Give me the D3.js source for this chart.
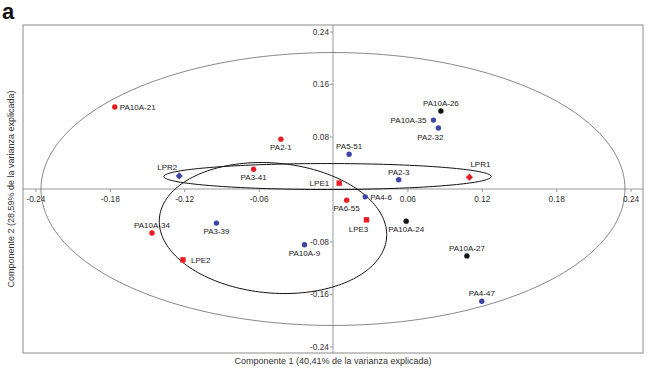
<!DOCTYPE html>
<html>
<head>
<meta charset="utf-8">
<script src="https://cdn.jsdelivr.net/npm/d3@7"></script>
<style>
  html, body { margin: 0; padding: 0; background: #fff; }
  svg { display: block; font-family: "Liberation Sans", Arial, sans-serif; }
</style>
</head>
<body>
<svg id="chart" width="650" height="376"></svg>
<script>
// ---- data ----
const names = ["PA10A-21","PA2-1","LPR2","PA3-41","LPE1","PA5-51","PA10A-26","PA10A-35","PA2-32","PA2-3","LPR1",
               "PA4-6","PA6-55","LPE3","PA10A-24","PA10A-27","PA4-47","PA10A-34","PA3-39","LPE2","PA10A-9"];
const pc1 = [-0.176,-0.042,-0.124,-0.064,0.005,0.013,0.087,0.081,0.085,0.053,0.110,
             0.026,0.011,0.027,0.059,0.108,0.120,-0.146,-0.094,-0.121,-0.023];
const pc2 = [0.125,0.076,0.020,0.030,0.009,0.053,0.119,0.105,0.093,0.014,0.018,
             -0.012,-0.017,-0.047,-0.049,-0.102,-0.171,-0.067,-0.052,-0.108,-0.085];
const group = ["red","red","blue","red","red","blue","black","blue","blue","blue","red",
               "blue","red","red","black","black","blue","red","blue","red","blue"];
const kind = ["isolate","isolate","LPR","isolate","LPE","isolate","isolate","isolate","isolate","isolate","LPR",
              "isolate","isolate","LPE","isolate","isolate","isolate","isolate","isolate","LPE","isolate"];
const labelPlace = ["r","b","tl","b","l","t","t","l","bl","t","tr",
                    "r","b","bl","b","t","t","t","b","r","b"];
const xTicks = [-0.24,-0.18,-0.12,-0.06,0.06,0.12,0.18,0.24];
const yTicks = [0.24,0.16,0.08,-0.08,-0.16,-0.24];
// confidence ellipses: centre + two conjugate semi-axis vectors (data units)
const ellipseCenter = [[0,0],[-0.0044,0.019],[-0.0484,-0.0595]];
const ellipseA = [[0.2355,0],[0.132,0],[0.0916,-0.0152]];
const ellipseB = [[0,0.208],[0,0.0198],[0.0046,0.0987]];
const ellipseKind = ["all","LPR","LPE"];
const xTitle = "Componente 1 (40,41% de la varianza explicada)";
const yTitle = "Componente 2 (28,59% de la varianza explicada)";

// ---- drawing ----
const svg = d3.select("#chart");
const x = d3.scaleLinear().domain([-0.25,0.25]).range([23,643]);
const y = d3.scaleLinear().domain([-0.25,0.25]).range([353,25]);
const color = d3.scaleOrdinal().domain(["red","blue","black"]).range(["#ec1c24","#3d46a6","#111111"]);

svg.append("text").attr("x",2).attr("y",19).attr("font-size",22).attr("font-weight","bold")
  .attr("fill","#111").text("a");

svg.append("rect").attr("x",x(-0.25)).attr("y",y(0.25))
  .attr("width",x(0.25)-x(-0.25)).attr("height",y(-0.25)-y(0.25))
  .attr("fill","none").attr("stroke","#8a8a8a").attr("stroke-width",1);

svg.append("line").attr("x1",x(-0.25)).attr("x2",x(0.25)).attr("y1",y(0)).attr("y2",y(0))
  .attr("stroke","#9a9a9a").attr("stroke-width",1);
svg.append("line").attr("x1",x(0)).attr("x2",x(0)).attr("y1",y(0.25)).attr("y2",y(-0.25))
  .attr("stroke","#9a9a9a").attr("stroke-width",1);

const xAxis = svg.append("g").attr("transform",`translate(0,${y(0)})`)
  .call(d3.axisBottom(x).tickValues(xTicks).tickSize(3).tickPadding(4).tickFormat(d3.format(".2f")));
const yAxis = svg.append("g").attr("transform",`translate(${x(0)},0)`)
  .call(d3.axisLeft(y).tickValues(yTicks).tickSize(3).tickPadding(1).tickFormat(d3.format(".2f")));
[xAxis,yAxis].forEach(g => {
  g.select(".domain").remove();
  g.selectAll("line").attr("stroke","#9a9a9a");
  g.selectAll("text").attr("font-size",8.3).attr("fill","#333")
   .attr("font-family","'Liberation Sans', Arial, sans-serif");
});
xAxis.selectAll("text").text(d => d3.format(".2f")(d).replace("−","-"));
yAxis.selectAll("text").text(d => d3.format(".2f")(d).replace("−","-"));

// ellipses
const line = d3.line().x(p => x(p[0])).y(p => y(p[1])).curve(d3.curveLinearClosed);
ellipseCenter.forEach((c,i) => {
  const pts = d3.range(0, 2*Math.PI, Math.PI/90).map(t => [
    c[0] + Math.cos(t)*ellipseA[i][0] + Math.sin(t)*ellipseB[i][0],
    c[1] + Math.cos(t)*ellipseA[i][1] + Math.sin(t)*ellipseB[i][1]]);
  svg.append("path").attr("d",line(pts)).attr("fill","none")
    .attr("stroke", ellipseKind[i]==="all" ? "#555" : "#111")
    .attr("stroke-width", ellipseKind[i]==="all" ? 0.7 : 1);
});

// points
const idx = d3.range(names.length);
const marks = svg.append("g");
idx.forEach(i => {
  const px = x(pc1[i]), py = y(pc2[i]), col = color(group[i]);
  if (kind[i]==="LPE") {
    marks.append("rect").attr("x",px-2.7).attr("y",py-2.7).attr("width",5.4).attr("height",5.4).attr("fill",col);
  } else if (kind[i]==="LPR") {
    const h = 3.6;
    marks.append("path").attr("d",`M${px},${py-h}L${px+h},${py}L${px},${py+h}L${px-h},${py}Z`).attr("fill",col);
  } else {
    marks.append("circle").attr("cx",px).attr("cy",py).attr("r",2.7).attr("fill",col);
  }
});

// labels
const labels = svg.append("g").attr("font-size",8).attr("fill","#1a1a1a");
idx.forEach(i => {
  const px = x(pc1[i]), py = y(pc2[i]);
  let tx = px, ty = py, anchor = "middle";
  switch (labelPlace[i]) {
    case "r":  tx = px + (kind[i]==="LPE" ? 8 : 5); ty = py + 3; anchor = "start"; break;
    case "l":  tx = px - (kind[i]==="LPE" ? 10 : 7); ty = py + 3; anchor = "end"; break;
    case "t":  ty = py - 5; break;
    case "b":  ty = py + 11; break;
    case "tl": tx = px - 12; ty = py - 6; break;
    case "tr": tx = px + 11; ty = py - 10; break;
    case "bl": tx = px - 8; ty = py + 12; break;
  }
  labels.append("text").attr("x",tx).attr("y",ty).attr("text-anchor",anchor).text(names[i]);
});

// axis titles
svg.append("text").attr("x",x(0)).attr("y",364).attr("text-anchor","middle")
  .attr("font-size",9).attr("fill","#333").text(xTitle);
svg.append("text").attr("transform",`translate(14,${y(0)}) rotate(-90)`).attr("text-anchor","middle")
  .attr("font-size",9).attr("fill","#333").text(yTitle);
</script>
</body>
</html>
